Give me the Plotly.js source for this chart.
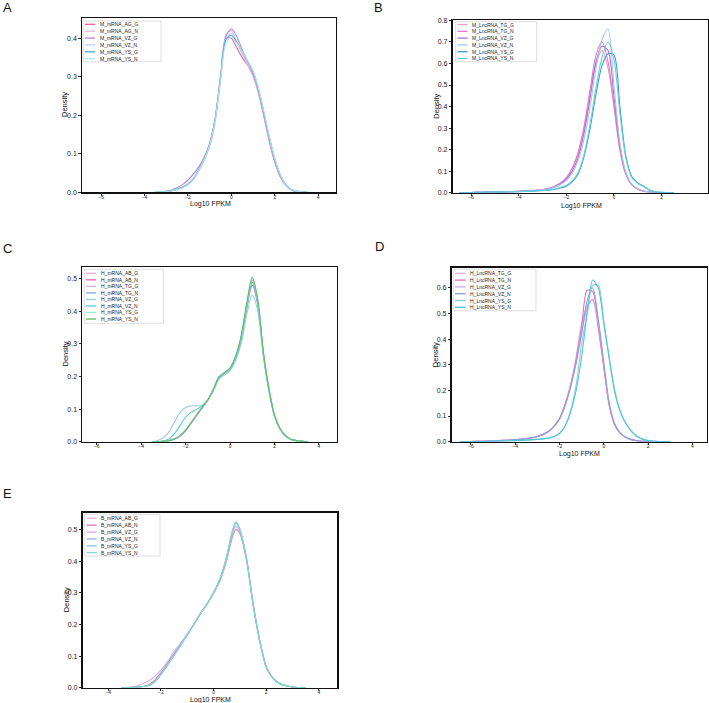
<!DOCTYPE html>
<html>
<head>
<meta charset="utf-8">
<script src="https://cdn.plot.ly/plotly-3.0.1.min.js"></script>
<style>html,body{margin:0;padding:0;background:#fff;}#chart{width:709px;height:703px;}</style>
</head>
<body>
<div id="chart"></div>
<script>
// ---------- Panel A : M_mRNA ----------
const namesA = ['M_mRNA_AG_G','M_mRNA_AG_N','M_mRNA_VZ_G','M_mRNA_VZ_N','M_mRNA_YS_G','M_mRNA_YS_N'];
const xA = [-3.5,-3.25,-3,-2.75,-2.5,-2.25,-2,-1.75,-1.5,-1.25,-1,-0.75,-0.5,-0.25,0,0.25,0.5,0.75,1,1.25,1.5,1.75,2,2.25,2.5,2.75,3,3.25,3.5];
const yA_AG_G = [0,0.001,0.002,0.004,0.008,0.013,0.021,0.035,0.058,0.087,0.125,0.19,0.30,0.40,0.40,0.375,0.35,0.33,0.305,0.26,0.2,0.135,0.08,0.042,0.019,0.007,0.002,0.001,0];
const yA_AG_N = [0,0.001,0.002,0.004,0.007,0.012,0.02,0.033,0.055,0.083,0.118,0.18,0.29,0.41,0.42,0.39,0.36,0.33,0.30,0.255,0.195,0.13,0.078,0.04,0.018,0.007,0.002,0.001,0];
const yA_VZ_G = [0,0.001,0.003,0.006,0.012,0.02,0.032,0.047,0.066,0.092,0.128,0.19,0.295,0.405,0.425,0.405,0.37,0.34,0.31,0.262,0.2,0.135,0.08,0.042,0.019,0.007,0.002,0.001,0];
const yA_VZ_N = [0,0.001,0.002,0.004,0.008,0.013,0.022,0.036,0.06,0.088,0.126,0.19,0.30,0.40,0.412,0.39,0.362,0.337,0.312,0.266,0.205,0.14,0.085,0.045,0.02,0.008,0.003,0.001,0];
const yA_YS_G = [0,0.001,0.002,0.004,0.008,0.013,0.021,0.035,0.059,0.087,0.125,0.19,0.298,0.397,0.408,0.39,0.365,0.34,0.314,0.268,0.207,0.142,0.087,0.046,0.021,0.008,0.003,0.001,0];
const yA_YS_N = [0,0.001,0.002,0.004,0.007,0.012,0.02,0.034,0.057,0.085,0.123,0.187,0.292,0.388,0.402,0.388,0.365,0.342,0.316,0.27,0.21,0.145,0.088,0.047,0.021,0.008,0.003,0.001,0];
const colorsA = ['#e8609f','#e9b2e0','#b18ad0','#bcd2ec','#4aa9e0','#ade3e8'];

// ---------- Panel B : M_LncRNA ----------
const namesB = ['M_LncRNA_TG_G','M_LncRNA_TG_N','M_LncRNA_VZ_G','M_LncRNA_VZ_N','M_LncRNA_YS_G','M_LncRNA_YS_N'];
const xB = [-6.5,-6,-5.5,-5,-4.5,-4,-3.5,-3,-2.75,-2.5,-2.25,-2,-1.75,-1.5,-1.25,-1,-0.75,-0.5,-0.25,0,0.25,0.5,0.75,1,1.25,1.5,1.75,2,2.5];
const yB_TG_G = [0,0.001,0.002,0.003,0.004,0.006,0.009,0.014,0.019,0.028,0.043,0.065,0.11,0.18,0.30,0.46,0.60,0.66,0.58,0.40,0.20,0.085,0.038,0.018,0.008,0.003,0.001,0.001,0];
const yB_TG_N = [0,0.001,0.002,0.003,0.004,0.006,0.009,0.014,0.02,0.03,0.045,0.07,0.115,0.19,0.31,0.48,0.64,0.70,0.61,0.41,0.20,0.085,0.037,0.017,0.007,0.003,0.001,0.001,0];
const yB_VZ_G = [0,0.001,0.002,0.003,0.004,0.006,0.009,0.013,0.018,0.026,0.04,0.062,0.1,0.165,0.28,0.44,0.61,0.68,0.66,0.45,0.22,0.09,0.038,0.017,0.007,0.003,0.001,0.001,0];
const yB_VZ_N = [0,0.001,0.002,0.003,0.004,0.006,0.009,0.013,0.018,0.025,0.037,0.056,0.09,0.15,0.25,0.40,0.58,0.71,0.76,0.50,0.23,0.095,0.04,0.018,0.008,0.003,0.001,0.001,0];
const yB_YS_G = [0,0.001,0.002,0.003,0.004,0.005,0.007,0.01,0.012,0.015,0.022,0.03,0.05,0.088,0.17,0.30,0.46,0.59,0.645,0.64,0.40,0.17,0.075,0.045,0.03,0.012,0.004,0.002,0];
const yB_YS_N = [0,0.001,0.002,0.003,0.004,0.005,0.007,0.01,0.013,0.017,0.024,0.034,0.055,0.095,0.18,0.32,0.49,0.63,0.70,0.62,0.37,0.16,0.07,0.044,0.028,0.011,0.004,0.002,0];
const colorsB = ['#ec9ccb','#e27ac4','#a772d6','#a9c5f0','#3f9ad8','#6ccfd9'];

// ---------- Panel C : H_mRNA ----------
const namesC = ['H_mRNA_AB_G','H_mRNA_AB_N','H_mRNA_TG_G','H_mRNA_TG_N','H_mRNA_VZ_G','H_mRNA_VZ_N','H_mRNA_YS_G','H_mRNA_YS_N'];
const xC = [-3.5,-3.25,-3,-2.75,-2.5,-2.25,-2,-1.75,-1.5,-1.25,-1,-0.75,-0.5,-0.25,0,0.25,0.5,0.75,1,1.25,1.5,1.75,2,2.25,2.5,2.75,3,3.25,3.5];
const yC_AB_G = [0,0,0.001,0.003,0.008,0.018,0.035,0.058,0.082,0.105,0.128,0.16,0.198,0.212,0.225,0.26,0.32,0.415,0.49,0.425,0.27,0.16,0.08,0.04,0.018,0.007,0.003,0.001,0];
const yC_AB_N = [0,0,0.001,0.003,0.008,0.017,0.034,0.057,0.081,0.104,0.127,0.16,0.197,0.21,0.224,0.258,0.318,0.41,0.48,0.42,0.268,0.158,0.08,0.04,0.018,0.007,0.003,0.001,0];
const yC_TG_G = [0,0,0.001,0.003,0.008,0.018,0.035,0.058,0.082,0.105,0.128,0.16,0.198,0.212,0.225,0.26,0.32,0.418,0.495,0.428,0.27,0.16,0.08,0.04,0.018,0.007,0.003,0.001,0];
const yC_TG_N = [0,0,0.001,0.003,0.009,0.019,0.036,0.059,0.083,0.106,0.129,0.16,0.198,0.211,0.224,0.258,0.318,0.415,0.49,0.425,0.27,0.16,0.08,0.04,0.018,0.007,0.003,0.001,0];
const yC_VZ_G = [0,0.004,0.012,0.03,0.06,0.09,0.105,0.11,0.11,0.112,0.13,0.158,0.192,0.205,0.218,0.25,0.30,0.39,0.45,0.40,0.26,0.155,0.08,0.04,0.018,0.007,0.003,0.001,0];
const yC_VZ_N = [0,0,0.002,0.008,0.025,0.05,0.075,0.09,0.1,0.11,0.128,0.158,0.195,0.21,0.222,0.255,0.315,0.41,0.49,0.425,0.27,0.16,0.08,0.04,0.018,0.007,0.003,0.001,0];
const yC_YS_G = [0,0,0.001,0.003,0.008,0.018,0.035,0.058,0.082,0.105,0.128,0.16,0.198,0.212,0.225,0.26,0.322,0.42,0.50,0.432,0.272,0.161,0.081,0.04,0.018,0.007,0.003,0.001,0];
const yC_YS_N = [0,0,0.001,0.003,0.008,0.018,0.035,0.058,0.082,0.105,0.128,0.16,0.198,0.212,0.226,0.262,0.325,0.425,0.505,0.435,0.275,0.162,0.082,0.04,0.018,0.007,0.003,0.001,0];
const colorsC = ['#efaad5','#e262b4','#d9aee9','#8fa3dc','#9acbe9','#56cbd8','#9ee8d2','#5cbd5c'];

// ---------- Panel D : H_LncRNA ----------
const namesD = ['H_LncRNA_TG_G','H_LncRNA_TG_N','H_LncRNA_VZ_G','H_LncRNA_VZ_N','H_LncRNA_YS_G','H_LncRNA_YS_N'];
const xD = [-6.5,-6,-5.5,-5,-4.5,-4,-3.5,-3,-2.5,-2.25,-2,-1.75,-1.5,-1.25,-1,-0.75,-0.5,-0.25,0,0.25,0.5,0.75,1,1.25,1.5,1.75,2,2.5,3];
const yD_TG_G = [0,0.001,0.002,0.003,0.005,0.008,0.012,0.02,0.04,0.06,0.09,0.145,0.22,0.33,0.46,0.53,0.55,0.44,0.29,0.14,0.065,0.032,0.016,0.008,0.004,0.002,0.001,0,0];
const yD_TG_N = [0,0.001,0.002,0.003,0.005,0.008,0.012,0.02,0.04,0.06,0.09,0.145,0.22,0.32,0.45,0.59,0.585,0.45,0.29,0.14,0.065,0.032,0.016,0.008,0.004,0.002,0.001,0,0];
const yD_VZ_G = [0,0.001,0.002,0.003,0.005,0.008,0.012,0.02,0.04,0.06,0.088,0.14,0.215,0.31,0.43,0.52,0.555,0.46,0.30,0.145,0.067,0.033,0.016,0.008,0.004,0.002,0.001,0,0];
const yD_VZ_N = [0,0.001,0.002,0.003,0.005,0.008,0.012,0.02,0.04,0.06,0.088,0.14,0.212,0.305,0.42,0.55,0.60,0.48,0.31,0.15,0.068,0.033,0.016,0.008,0.004,0.002,0.001,0,0];
const yD_YS_G = [0,0.001,0.001,0.002,0.003,0.004,0.006,0.009,0.014,0.02,0.033,0.062,0.12,0.22,0.38,0.50,0.61,0.61,0.47,0.33,0.2,0.12,0.072,0.042,0.021,0.01,0.005,0.001,0];
const yD_YS_N = [0,0.001,0.001,0.002,0.003,0.004,0.006,0.009,0.014,0.02,0.032,0.06,0.115,0.2,0.33,0.5,0.63,0.60,0.46,0.32,0.19,0.115,0.07,0.04,0.02,0.01,0.005,0.001,0];
const colorsD = ['#f0a8d6','#e070bb','#cfa3e6','#8aa0dc','#8ccbe6','#4fc6d6'];

// ---------- Panel E : B_mRNA ----------
const namesE = ['B_mRNA_AB_G','B_mRNA_AB_N','B_mRNA_VZ_G','B_mRNA_VZ_N','B_mRNA_YS_G','B_mRNA_YS_N'];
const xE = [-3.5,-3,-2.5,-2.25,-2,-1.75,-1.5,-1.25,-1,-0.75,-0.5,-0.25,0,0.25,0.5,0.7,0.85,1,1.25,1.5,1.75,2,2.25,2.5,3,3.5];
const yE_AB_G = [0,0.001,0.006,0.018,0.042,0.072,0.103,0.135,0.167,0.2,0.235,0.265,0.30,0.343,0.41,0.48,0.51,0.492,0.405,0.262,0.148,0.065,0.03,0.013,0.002,0];
const yE_AB_N = [0,0.001,0.008,0.022,0.047,0.077,0.107,0.138,0.168,0.2,0.234,0.264,0.298,0.34,0.405,0.472,0.50,0.488,0.405,0.265,0.15,0.066,0.03,0.013,0.002,0];
const yE_VZ_G = [0,0.004,0.02,0.035,0.056,0.082,0.115,0.142,0.17,0.2,0.233,0.263,0.298,0.34,0.405,0.475,0.50,0.49,0.41,0.27,0.155,0.07,0.032,0.014,0.002,0];
const yE_VZ_N = [0,0.001,0.006,0.017,0.041,0.071,0.102,0.134,0.166,0.2,0.235,0.265,0.30,0.345,0.415,0.488,0.52,0.498,0.408,0.264,0.149,0.066,0.03,0.013,0.002,0];
const yE_YS_G = [0,0.001,0.006,0.018,0.042,0.072,0.103,0.135,0.167,0.2,0.235,0.266,0.302,0.347,0.418,0.492,0.525,0.502,0.41,0.265,0.15,0.066,0.03,0.013,0.002,0];
const yE_YS_N = [0,0.001,0.006,0.018,0.042,0.072,0.103,0.135,0.167,0.2,0.235,0.265,0.30,0.345,0.415,0.49,0.522,0.5,0.41,0.265,0.15,0.066,0.03,0.013,0.002,0];
const colorsE = ['#eeb0d6','#d77bb5','#d3a8e8','#8eb0e4','#84c3e4','#7fdcc8'];

// ---------- assemble ----------
const W = 709, H = 703;
const PX = p => p / W;
const PY = p => 1 - p / H;
const FONT = 'Liberation Sans, Arial, Helvetica, sans-serif';

const panels = [
  {letter:'A', names:namesA, x:xA, ys:[yA_AG_G,yA_AG_N,yA_VZ_G,yA_VZ_N,yA_YS_G,yA_YS_N], colors:colorsA,
   box:[82,18,336,192.3], xr:[-6.88,4.82], yr:[0,0.453], lp:[1,7.5],
   leg:{x0:83.3,y0:21,x1:161,y1:61.7,lx0:85,lx1:95,tx:97.7,r0:24.3,dr:6.88},
   xt:[210,204], yt:[64,105]},
  {letter:'B', names:namesB, x:xB, ys:[yB_TG_G,yB_TG_N,yB_VZ_G,yB_VZ_N,yB_YS_G,yB_YS_N], colors:colorsB,
   box:[452.7,20,708,192.7], xr:[-6.77,3.95], yr:[0,0.802], lp:[371.5,7.5],
   leg:{x0:455.7,y0:21.7,x1:536.7,y1:61.7,lx0:457.5,lx1:467.5,tx:469.5,r0:24.5,dr:6.8},
   xt:[581,206.5], yt:[436.7,106]},
  {letter:'C', names:namesC, x:xC, ys:[yC_AB_G,yC_AB_N,yC_TG_G,yC_TG_N,yC_VZ_G,yC_VZ_N,yC_YS_G,yC_YS_N], colors:colorsC,
   box:[82.3,267.3,336.7,441.7], xr:[-6.65,4.8], yr:[0,0.535], lp:[1,248.3],
   leg:{x0:84.3,y0:269.3,x1:163.3,y1:323.3,lx0:86,lx1:96,tx:99.3,r0:273.3,dr:6.53},
   xt:null, yt:[65,354.5]},
  {letter:'D', names:namesD, x:xD, ys:[yD_TG_G,yD_TG_N,yD_VZ_G,yD_VZ_N,yD_YS_G,yD_YS_N], colors:colorsD,
   box:[451.7,267.7,706.7,441.7], xr:[-6.87,4.65], yr:[0,0.678], lp:[372.5,246.3],
   leg:{x0:453.3,y0:269.3,x1:536,y1:310.7,lx0:455,lx1:465.7,tx:468.3,r0:273.3,dr:6.8},
   xt:[579,454], yt:[435.5,354.7]},
  {letter:'E', names:namesE, x:xE, ys:[yE_AB_G,yE_AB_N,yE_VZ_G,yE_VZ_N,yE_YS_G,yE_YS_N], colors:colorsE,
   box:[82.7,512.7,337.3,687.7], xr:[-4.97,4.70], yr:[0,0.554], lp:[1,493.8],
   leg:{x0:84.3,y0:514.3,x1:160,y1:556,lx0:86.7,lx1:96.7,tx:99.3,r0:518.3,dr:6.88},
   xt:[210,699.5], yt:[66,600.2]}
];

const traces = [];
const layout = {
  width: W, height: H,
  margin: {l:0, r:0, t:0, b:0},
  paper_bgcolor: '#ffffff', plot_bgcolor: '#ffffff',
  showlegend: false,
  font: {family: FONT, color: '#111'},
  shapes: [], annotations: []
};

panels.forEach((p, i) => {
  const n = i === 0 ? '' : String(i + 1);
  const xa = 'x' + n, ya = 'y' + n;
  p.ys.forEach((y, k) => {
    traces.push({
      type: 'scatter', mode: 'lines', x: p.x, y: y, name: p.names[k],
      xaxis: xa, yaxis: ya,
      line: {color: p.colors[k], width: 1.1, shape: 'spline', smoothing: 0.8},
      hoverinfo: 'skip'
    });
  });
  const [bx0, by0, bx1, by1] = p.box;
  layout['xaxis' + n] = {
    domain: [PX(bx0), PX(bx1)], range: p.xr, anchor: ya,
    tick0: 0, dtick: 2, ticks: 'outside', ticklen: 2, tickwidth: 0.8, tickcolor: '#000',
    ticklabelstandoff: -3,
    tickfont: {size: 5, family: FONT, color: '#222'},
    showline: true, mirror: true, linecolor: '#111', linewidth: 1.3,
    showgrid: false, zeroline: false, fixedrange: true
  };
  layout['yaxis' + n] = {
    domain: [PY(by1), PY(by0)], range: p.yr, anchor: xa,
    tick0: 0, dtick: 0.1, tickformat: '.1f', ticks: 'outside', ticklen: 2.5, tickwidth: 0.8, tickcolor: '#000',
    tickfont: {size: 7, family: FONT, color: '#222'},
    showline: true, mirror: true, linecolor: '#111', linewidth: 1.3,
    showgrid: false, zeroline: false, fixedrange: true
  };
  // panel letter
  layout.annotations.push({xref:'paper', yref:'paper', x:PX(p.lp[0]), y:PY(p.lp[1]), xanchor:'left', yanchor:'middle',
    text:p.letter, showarrow:false, font:{size:13, family:FONT, color:'#111'}});
  // axis titles
  if (p.xt) layout.annotations.push({xref:'paper', yref:'paper', x:PX(p.xt[0]), y:PY(p.xt[1]), xanchor:'center', yanchor:'middle',
    text:'Log10 FPKM', showarrow:false, font:{size:7, family:FONT, color:'#111'}});
  layout.annotations.push({xref:'paper', yref:'paper', x:PX(p.yt[0]), y:PY(p.yt[1]), xanchor:'center', yanchor:'middle',
    text:'Density', textangle:-90, showarrow:false, font:{size:7.5, family:FONT, color:'#111'}});
  // legend box
  const L = p.leg;
  layout.shapes.push({type:'rect', xref:'paper', yref:'paper', x0:PX(L.x0), x1:PX(L.x1), y0:PY(L.y1), y1:PY(L.y0),
    line:{color:'#d6d6d6', width:0.8}, fillcolor:'rgba(255,255,255,0.85)', layer:'above'});
  p.names.forEach((nm, k) => {
    const ry = L.r0 + k * L.dr;
    layout.shapes.push({type:'line', xref:'paper', yref:'paper', x0:PX(L.lx0), x1:PX(L.lx1), y0:PY(ry), y1:PY(ry),
      line:{color:p.colors[k], width:1.3}, layer:'above'});
    layout.annotations.push({xref:'paper', yref:'paper', x:PX(L.tx), y:PY(ry), xanchor:'left', yanchor:'middle',
      text:nm, showarrow:false, font:{size:5, family:FONT, color:'#222'}});
  });
});

Plotly.newPlot('chart', traces, layout, {staticPlot: true, displayModeBar: false});
</script>
</body>
</html>
